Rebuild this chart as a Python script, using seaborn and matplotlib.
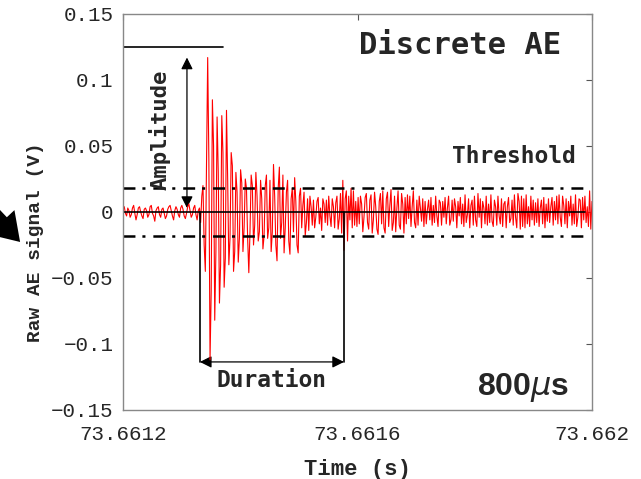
import numpy as np
import pandas as pd
import matplotlib
matplotlib.use("Agg")
import matplotlib.pyplot as plt
from matplotlib.patches import FancyArrowPatch
import seaborn as sns

# Recorded window (s) and raw AE samples (V), 2 us sampling
t_start = 73.6612
t_end = 73.6620

pre_trigger = [
    0.002, 0.004, -0.001, -0.003, 0.003, 0.001, -0.004, -0.002, 0.003, 0.005,
    -0.001, -0.006, -0.002, 0.003, 0.004, 0.000, -0.003, -0.005, 0.002, 0.003,
    0.001, -0.004, -0.002, 0.004, 0.005, -0.001, -0.003, -0.007, 0.001, 0.003,
    0.004, -0.002, -0.004, 0.002, 0.003, -0.001, -0.005, -0.003, 0.002, 0.004,
    0.005, 0.001, -0.003, -0.006, 0.001, 0.004, 0.002, -0.002, -0.004, 0.003,
    0.005, 0.002, -0.003, -0.005, -0.001, 0.004, 0.006, 0.001, -0.004, -0.002,
    0.003, 0.005, -0.002, -0.006, 0.001, 0.003,
]

burst = [
    -0.008, 0.012, 0.020, -0.025, -0.045, 0.035, 0.117, 0.040, -0.112, -0.060,
    0.085, 0.050, -0.082, -0.030, 0.072, 0.030, -0.069, -0.040, 0.073, 0.045,
    -0.057, -0.035, 0.077, 0.025, -0.040, -0.020, 0.045, 0.035, -0.045, -0.030,
    0.030, 0.015, -0.038, -0.020, 0.032, 0.022, -0.030, -0.012, 0.025, 0.018,
    -0.020, -0.046, -0.015, 0.028, 0.020, -0.025, -0.010, 0.030, 0.012, -0.022,
    -0.015, 0.024, 0.010, -0.028, -0.018, 0.020, 0.028, -0.020, -0.012, 0.024,
    -0.030, -0.015, 0.036, 0.012, -0.025, -0.037, 0.018, 0.034, -0.020, -0.008,
    0.028, -0.031, -0.012, 0.015, 0.024, -0.022, -0.032, 0.010, 0.018, -0.015,
    0.026, 0.008, -0.025, -0.031, 0.012, 0.018, -0.012, 0.005, 0.015, -0.018,
    -0.008, 0.010, -0.014, 0.012, 0.004, -0.010, 0.009, -0.012, -0.004, 0.008,
    0.011, -0.009, 0.003, -0.014, 0.010, 0.006, -0.008, 0.009, -0.010, 0.012,
    -0.003, -0.011, 0.010, 0.004, -0.012, 0.007, 0.012, -0.013, -0.005, 0.014,
    -0.016, 0.024, -0.029, 0.010, 0.016, -0.022, 0.012, -0.006, 0.018, -0.012,
    0.016, -0.010, 0.008, -0.011, 0.011,
]

coda = [
    -0.009, 0.012, 0.006, -0.015, -0.004, 0.011, 0.014, -0.008, -0.013, 0.009,
    0.013, -0.016, -0.006, 0.015, 0.004, -0.013, -0.017, 0.008, 0.014, -0.009,
    0.016, -0.012, -0.016, 0.010, 0.015, -0.011, 0.005, 0.017, -0.014, -0.008,
    0.012, -0.015, 0.003, 0.016, -0.010, -0.013, 0.014, 0.006, -0.016, 0.011,
    -0.009, 0.013, -0.005, 0.012, -0.011, 0.004, 0.016, -0.008, -0.012, 0.009,
    -0.010, 0.012, 0.003, -0.007, 0.010, -0.011, 0.008, -0.009, 0.002, 0.009,
    -0.006, 0.011, -0.010, 0.005, -0.008, 0.012, -0.003, -0.011, 0.009, 0.007,
    -0.010, 0.008, -0.004, 0.011, -0.009, 0.003, 0.012, -0.010, -0.006, 0.009,
    -0.007, 0.010, 0.004, -0.012, 0.008, -0.003, 0.011, -0.009, 0.006, -0.011,
    0.013, -0.008, -0.002, 0.010, -0.012, 0.005, 0.009, -0.010, 0.012, -0.006,
    -0.011, 0.014, -0.004, 0.010, -0.012, 0.008, 0.003, -0.009, 0.012, -0.010,
    0.006, -0.008, 0.013, -0.007, -0.011, 0.009, 0.004, -0.010, 0.012, -0.003,
    -0.009, 0.010, -0.011, 0.006, 0.008, -0.012, 0.004, 0.011, -0.008, -0.005,
    0.009, -0.010, 0.013, -0.004, -0.012, 0.014, 0.008, -0.013, 0.012, -0.011,
    0.010, -0.012, 0.013, -0.009, 0.004, -0.011, 0.012, -0.006, 0.009, -0.010,
    0.007, -0.008, 0.010, -0.011, 0.003, 0.009, -0.009, 0.011, -0.012, 0.006,
    -0.007, 0.010, -0.008, 0.004, 0.011, -0.010, 0.008, -0.006, 0.012, -0.009,
    0.013, -0.004, -0.011, 0.012, 0.005, -0.009, 0.010, -0.012, 0.008, -0.003,
    0.012, -0.010, 0.006, -0.009, 0.013, -0.011, -0.004, 0.010, 0.009, -0.012,
    0.011, -0.006, 0.012, -0.008, 0.004, -0.011, 0.016, -0.013, 0.008,
]

# Annotation levels
threshold = 0.0185
amplitude_ref = 0.125
peak_level = 0.117
duration_start = 73.661331
duration_end = 73.661577
duration_y = -0.1136

x_ticks = [73.6612, 73.6616, 73.6620]
x_tick_labels = ["73.6612", "73.6616", "73.662"]
y_ticks = [-0.15, -0.1, -0.05, 0, 0.05, 0.1, 0.15]
y_tick_labels = ["\u22120.15", "\u22120.1", "\u22120.05", "0", "0.05", "0.1", "0.15"]

signal = pre_trigger + burst + coda
time = np.linspace(t_start, t_end, len(signal))
df = pd.DataFrame({"Time (s)": time, "Raw AE signal (V)": signal})

sns.set_style("white")
plt.rcParams["font.family"] = ["Liberation Mono", "DejaVu Sans Mono"]
plt.rcParams["lines.scale_dashes"] = False
plt.rcParams["mathtext.fontset"] = "dejavusans"

fig = plt.figure(figsize=(6.41, 4.79), dpi=100)
ax = fig.add_axes([0.192, 0.1441, 0.7315, 0.8267])

sns.lineplot(data=df, x="Time (s)", y="Raw AE signal (V)", ax=ax,
             color="#ff0000", linewidth=0.8, estimator=None, sort=False)

ax.set_xlim(t_start, t_end)
ax.set_ylim(-0.15, 0.15)
ax.set_xticks(x_ticks)
ax.set_xticklabels(x_tick_labels, fontsize=15)
ax.set_yticks(y_ticks)
ax.set_yticklabels(y_tick_labels, fontsize=15)
ax.tick_params(direction="in", length=4, width=0.8, color="#555555",
               top=True, right=True)
ax.tick_params(axis="x", pad=11)
ax.tick_params(axis="y", pad=7)
for s in ax.spines.values():
    s.set_color("#888888")
    s.set_linewidth(1.0)

ax.set_xlabel("Time (s)", fontsize=16, fontweight="bold")
ax.set_ylabel("Raw AE signal (V)", fontsize=14, fontweight="bold")
ax.xaxis.set_label_coords(0.5, -0.125)
ax.yaxis.set_label_coords(-0.168, 0.424)

line_end = 73.661988
dashdot = (0, (8.6, 5.0, 2.2, 5.7))
ax.plot([t_start, line_end], [threshold, threshold], color="black", lw=1.8, linestyle=dashdot)
ax.plot([t_start, line_end], [-threshold, -threshold], color="black", lw=1.8, linestyle=dashdot)
ax.plot([t_start, line_end], [0, 0], color="black", lw=1.2)

# Amplitude marker
ax.plot([t_start, 73.66137], [amplitude_ref, amplitude_ref], color="black", lw=1.2)
ax.add_patch(FancyArrowPatch((73.661309, 0.003), (73.661309, peak_level),
                             arrowstyle="<|-|>,head_length=7,head_width=3.5",
                             color="black", lw=0.9, shrinkA=0, shrinkB=0))

# Duration marker
ax.plot([duration_start, duration_start], [0, duration_y], color="black", lw=1.2)
ax.plot([duration_end, duration_end], [0, duration_y], color="black", lw=1.2)
ax.add_patch(FancyArrowPatch((duration_start, duration_y), (duration_end, duration_y),
                             arrowstyle="<|-|>,head_length=7,head_width=3.5",
                             color="black", lw=0.9, shrinkA=0, shrinkB=0))

ann_font = ["DejaVu Sans Mono"]
ax.text(73.661263, 0.062, "Amplitude", rotation=90, ha="center", va="center",
        fontsize=16, fontweight="bold", family=ann_font)
ax.text(73.661454, -0.128, "Duration", ha="center", va="center",
        fontsize=16.5, fontweight="bold", family=ann_font)
ax.text(73.661866, 0.0424, "Threshold", ha="center", va="center",
        fontsize=16.5, fontweight="bold", family=ann_font)
ax.text(73.661775, 0.1258, "Discrete AE", ha="center", va="center",
        fontsize=22, fontweight="bold", family=ann_font)
ax.text(73.661882, -0.1333, r"800$\mu$s", ha="center", va="center",
        fontsize=23, fontweight="bold", family=["Liberation Sans"])

# Pointer entering from the left edge
fig.patches.append(FancyArrowPatch((-10, 479 - 210), (22, 479 - 244),
                                   transform=None,
                                   arrowstyle="simple,head_length=1.3,head_width=1.7,tail_width=0.7",
                                   mutation_scale=15, color="black", lw=0))

fig.savefig("out.png", dpi=100)
